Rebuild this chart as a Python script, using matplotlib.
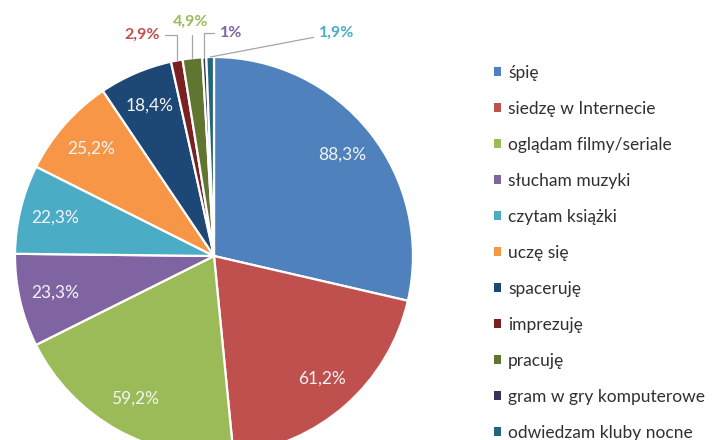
import matplotlib
matplotlib.use('Agg')
import numpy as np
import matplotlib.pyplot as plt

plt.rcParams['font.family'] = ['Lato', 'DejaVu Sans']

# activities and the share of answers (%)
categories = ['śpię', 'siedzę w Internecie', 'oglądam filmy/seriale', 'słucham muzyki',
              'czytam książki', 'uczę się', 'spaceruję', 'imprezuję', 'pracuję',
              'gram w gry komputerowe', 'odwiedzam kluby nocne']
values = [88.3, 61.2, 59.2, 23.3, 22.3, 25.2, 18.4, 2.9, 4.9, 1.0, 1.9]
colors = ['#4F81BD', '#C0504D', '#9BBB59', '#8064A2', '#4BACC6', '#F79646',
          '#1D4775', '#7A1F22', '#5F7530', '#3B3356', '#22667A']
label_colors = ['#F4F4F4'] * 7 + ['#C0504D', '#9BBB59', '#8064A2', '#4BACC6']

# small slices get their labels outside, placed above the pie
outside = {7: (-0.362, 1.111), 8: (-0.116, 1.176), 9: (0.085, 1.121), 10: (0.618, 1.121)}


def fmt(v):
    s = f'{v:.1f}'.rstrip('0').rstrip('.')
    return s.replace('.', ',') + '%'


fig = plt.figure(figsize=(7.12, 4.40), dpi=100)
# pie centre at (214, 256) px, radius 199 px
cx, cy, r = 214, 256, 199
ax = fig.add_axes([0, 0, 428 / 712, 1])

wedges, _ = ax.pie(values, colors=colors, startangle=90, counterclock=False,
                   radius=1, wedgeprops=dict(edgecolor='white', linewidth=1.6))
ax.set_aspect('auto')
ax.set_xlim(-cx / r, (428 - cx) / r)
ax.set_ylim(-(440 - cy) / r, cy / r)
ax.axis('off')

for i, (w, v) in enumerate(zip(wedges, values)):
    mid = np.deg2rad((w.theta1 + w.theta2) / 2)
    if i in outside:
        ex, ey = np.cos(mid), np.sin(mid)
        tx, ty = outside[i]
        if i == 10:
            cs = 'arc3'
        else:
            cs = 'angle,angleA=0,angleB=90,rad=0'
        ax.annotate(fmt(v), xy=(ex, ey), xytext=(tx, ty), ha='center', va='center',
                    fontsize=11.5, fontweight='bold', color=label_colors[i],
                    arrowprops=dict(arrowstyle='-', color='#A6A6A6', lw=0.9,
                                    connectionstyle=cs, shrinkA=2, shrinkB=0))
    else:
        d = 0.82
        ax.text(d * np.cos(mid), d * np.sin(mid), fmt(v), ha='center', va='center',
                fontsize=12.5, color=label_colors[i])

leg = fig.legend(wedges, categories, loc='upper left',
                 bbox_to_anchor=(494 / 712, 1 - 65 / 440), frameon=False,
                 fontsize=12.5, handlelength=0.4, handleheight=0.4,
                 handletextpad=0.4, labelspacing=1.15, borderpad=0, borderaxespad=0)
for h in leg.legend_handles:
    h.set_edgecolor('none')
for t in leg.get_texts():
    t.set_color('#303030')

fig.savefig('out.png', dpi=100)
